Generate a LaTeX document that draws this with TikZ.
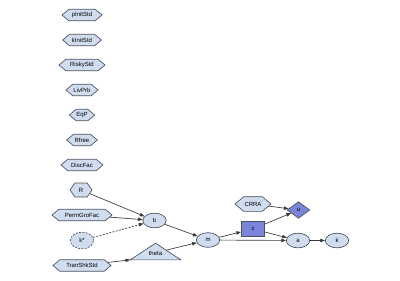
\documentclass[tikz,border=0pt]{standalone}
\usepackage{fontspec}
\setmainfont{Liberation Sans}
\usetikzlibrary{shapes.geometric,shapes.symbols,arrows.meta,calc}
\definecolor{lite}{HTML}{CFDDEF}
\definecolor{darkf}{HTML}{7A84D8}
\definecolor{bord}{HTML}{4A5260}
\definecolor{edgec}{HTML}{3A3A3A}
\begin{document}
\begin{tikzpicture}[x=0.75pt,y=-0.75pt,
  every node/.style={font=\fontsize{4.5}{5}\selectfont, inner sep=0pt, draw=bord, line width=0.5pt},
  hexa/.style={signal, signal to=west and east, signal pointer angle=80, fill=lite, minimum height=8.6pt},
  ell/.style={ellipse, fill=lite, minimum width=17.5pt, minimum height=11pt},
  fdash/.style={dash pattern=on 1.5pt off 1pt},
  dell/.style={ell, fdash, minimum height=12.5pt},
  dbox/.style={rectangle, fill=darkf, minimum width=17.5pt, minimum height=11pt},
  ddia/.style={diamond, fill=darkf, minimum width=17pt, minimum height=12.5pt},
  tribox/.style={rectangle, draw=none, minimum width=37.5pt, minimum height=12pt},
  trishape/.style={draw=bord, fill=lite, line width=0.5pt, line join=miter},
  conn/.style={draw=edgec, line width=0.5pt, -{Triangle[length=3.5pt,width=2.6pt]}}]
\useasboundingbox (0,0) rectangle (400,280);
\node[hexa, minimum width=30pt] (pInitStd) at (82,15) {pInitStd};
\node[hexa, minimum width=29pt] (kInitStd) at (82,40) {kInitStd};
\node[hexa, minimum width=34.5pt] (RiskyStd) at (82,65) {RiskyStd};
\node[hexa, minimum width=24pt] (LivPrb) at (82,90) {LivPrb};
\node[hexa, minimum width=19pt] (EqP) at (82,115) {EqP};
\node[hexa, minimum width=23pt] (Rfree) at (82,140) {Rfree};
\node[hexa, minimum width=31.5pt] (DiscFac) at (82,165) {DiscFac};
\node[hexa, minimum width=16.5pt, minimum height=10.5pt, signal pointer angle=110] (R) at (81,190) {R};
\node[hexa, minimum width=45pt] (PermGroFac) at (82,215) {PermGroFac};
\node[dell] (kstar) at (82,240.5) {k*};
\node[hexa, minimum width=43.5pt] (TranShkStd) at (82,265.5) {TranShkStd};
\node[ell] (b) at (154.5,220.5) {b};
\node[tribox] (thetabox) at (155.5,251.5) {};
\draw[trishape] (thetabox.south west) -- (thetabox.north) -- (thetabox.south east) -- cycle;
\node[draw=none] (theta) at (155.5,253) {theta};
\coordinate (thetaout) at ($(thetabox.north)!0.42!(thetabox.south east)$);
\node[ell] (m) at (208,240) {m};
\node[dbox] (c) at (253,229) {c};
\node[hexa, minimum width=27pt, minimum height=11pt] (CRRA) at (253,204) {CRRA};
\node[ddia] (u) at (298.5,210) {u};
\node[ell] (a) at (298,240.5) {a};
\node[ell] (k) at (337,240.5) {k};
\draw[conn] (R) -- (b);
\draw[conn] (PermGroFac) -- (b);
\draw[conn, fdash] (kstar) -- (b);
\draw[conn] (b) -- (m);
\draw[conn] (TranShkStd) -- (thetabox.south west);
\draw[conn] (thetaout) -- (m);
\draw[conn] (m) -- (c);
\draw[conn] (m) -- (a);
\draw[conn] (c) -- (u);
\draw[conn] (c) -- (a);
\draw[conn] (CRRA) -- (u);
\draw[conn] (a) -- (k);
\end{tikzpicture}
\end{document}
